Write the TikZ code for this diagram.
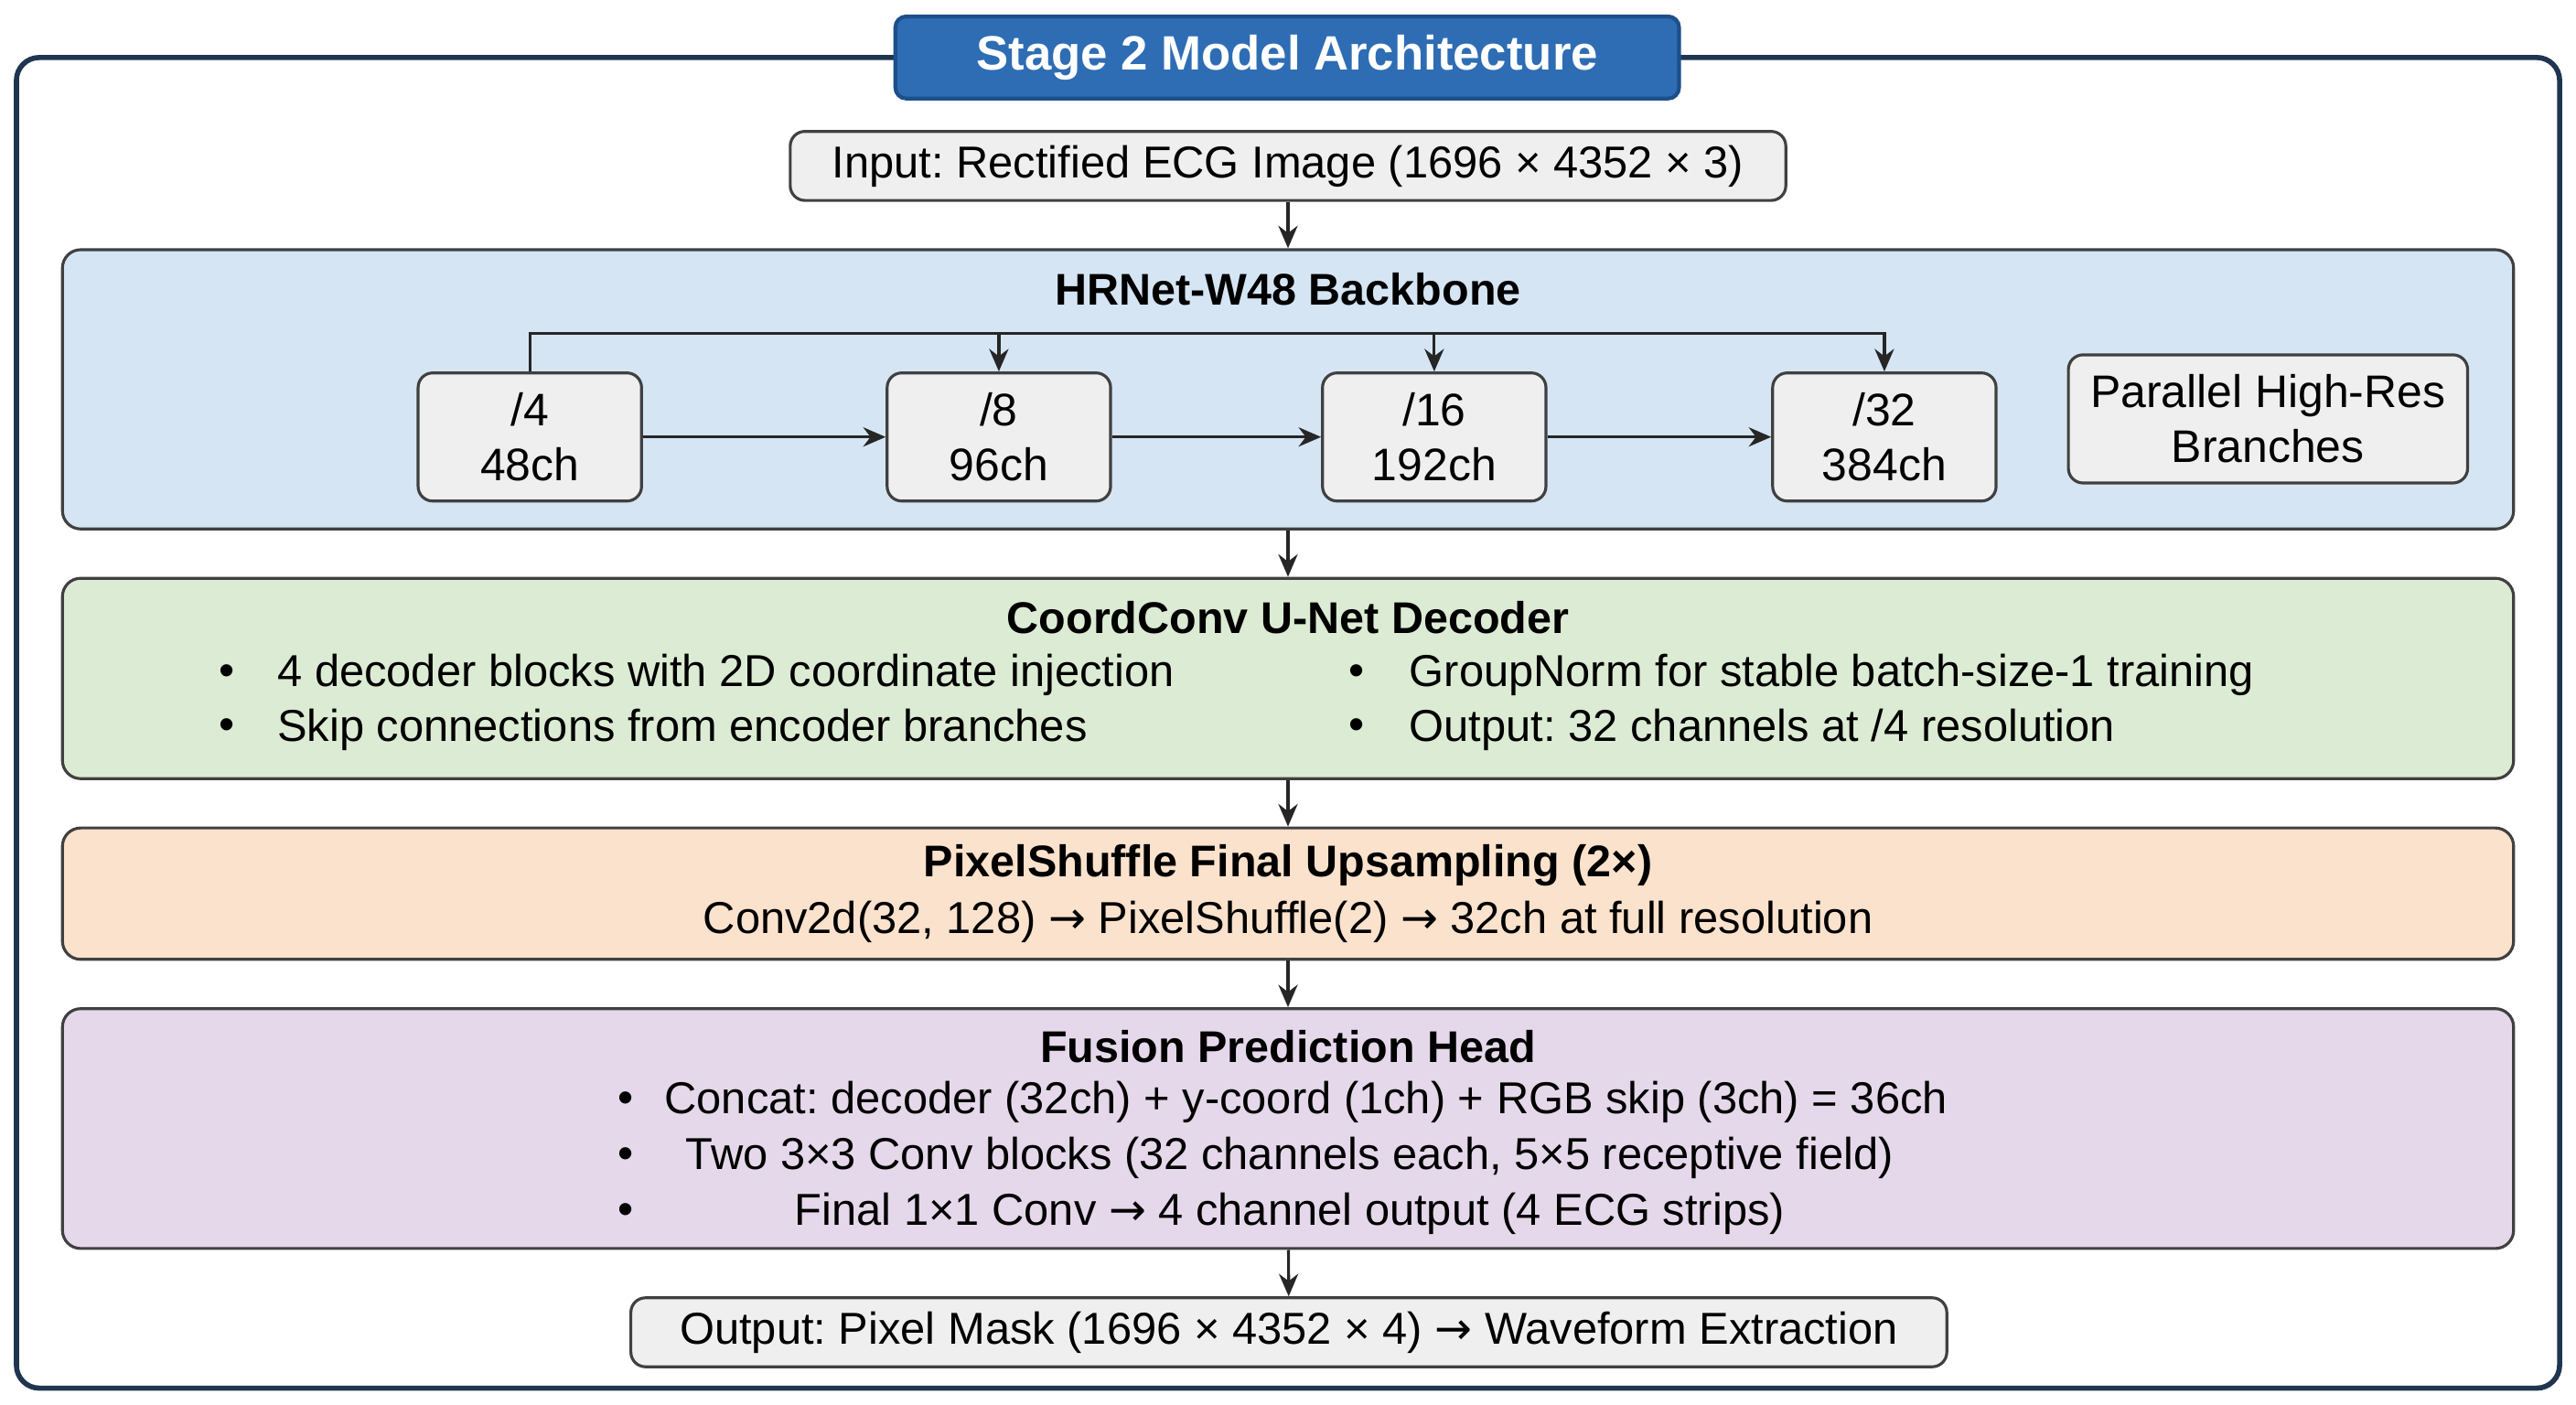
\documentclass[tikz,border=0pt]{standalone}
\usepackage{fontspec}
\setmainfont{Liberation Sans}
\newfontfamily\arrowfont{DejaVu Sans}
\newcommand{\ra}{{\arrowfont\symbol{"2192}}}
\usetikzlibrary{arrows.meta, positioning, calc}
\definecolor{frameblue}{HTML}{1F3550}
\definecolor{titleblue}{HTML}{2E6DB4}
\definecolor{titleedge}{HTML}{1D4F8A}
\definecolor{greybox}{HTML}{EFEFEF}
\definecolor{backbonefill}{HTML}{D5E5F3}
\definecolor{decoderfill}{HTML}{DCEBD3}
\definecolor{shufflefill}{HTML}{FBE2CC}
\definecolor{fusionfill}{HTML}{E5D8EA}
\def\u{0.01796cm}
\frenchspacing

\begin{document}
\begin{tikzpicture}[x=0.01796cm, y=-0.01796cm, font=\fontsize{13.9}{16}\selectfont]
            % Block styles
            \tikzstyle{panel} = [rectangle, draw=black!75, line width=0.9pt, rounded corners=0.2cm, minimum width=1492*\u]
            \tikzstyle{block} = [rectangle, draw=black!75, fill=greybox, line width=0.9pt, rounded corners=0.16cm, align=center]
            \tikzstyle{stage} = [block, minimum width=136*\u, minimum height=78*\u, font=\fontsize{14.2}{17}\selectfont]
            \tikzstyle{head} = [font=\fontsize{13.8}{16}\selectfont\bfseries]
            \tikzstyle{arrow} = [-{Stealth[length=7pt,width=6pt]}, line width=0.9pt, black!85]
            \useasboundingbox (0,0) rectangle (1568,855);
            % Frame and title
            \draw[frameblue, line width=1.6pt, rounded corners=0.25cm] (10,35) rectangle (1558,845);
            \node[rectangle, fill=titleblue, draw=titleedge, line width=1.2pt, rounded corners=0.12cm, minimum width=477*\u, minimum height=50*\u, text=white, font=\fontsize{15}{18}\selectfont\bfseries] (title) at (783.5,35) {Stage 2 Model Architecture};
            % Input and output
            \node[block, minimum width=606*\u, minimum height=42*\u] (input) at (784,101) {Input: Rectified ECG Image (1696 × 4352 × 3)};
            \node[block, minimum width=801*\u, minimum height=42*\u] (output) at (784.5,811) {Output: Pixel Mask (1696 × 4352 × 4) \ra{} Waveform Extraction};
            % Panels
            \node[panel, fill=backbonefill, minimum height=170*\u] (backbone) at (784,237) {};
            \node[panel, fill=decoderfill, minimum height=122*\u] (decoder) at (784,413) {};
            \node[panel, fill=shufflefill, minimum height=80*\u] (shuffle) at (784,544) {};
            \node[panel, fill=fusionfill, minimum height=146*\u] (fusion) at (784,687) {};
            % Backbone
            \node[head] (backbone_title) at (784,176) {HRNet-W48 Backbone};
            \node[stage] (b4) at (322.5,266) {/4\\48ch};
            \node[stage] (b8) at (608,266) {/8\\96ch};
            \node[stage] (b16) at (873,266) {/16\\192ch};
            \node[stage] (b32) at (1147,266) {/32\\384ch};
            \node[block, minimum width=243*\u, minimum height=78*\u, font=\fontsize{14.2}{17}\selectfont] (parallel) at (1380.5,255) {Parallel High-Res\\Branches};
            \coordinate (bus) at (322.5,203);
            \draw[arrow] (b4.north) -- (bus) -| (b32.north);
            \draw[arrow] (b8.north |- bus) -- (b8.north);
            \draw[arrow] (b16.north |- bus) -- (b16.north);
            \draw[arrow] (b4) -- (b8);
            \draw[arrow] (b8) -- (b16);
            \draw[arrow] (b16) -- (b32);
            % Decoder
            \node[head] (decoder_title) at (784,376) {CoordConv U-Net Decoder};
            \node (dl1_dot) at (138,411) {•};
            \node[anchor=west] (dl1) at (162,411) {4 decoder blocks with 2D coordinate injection};
            \node (dl2_dot) at (138,444) {•};
            \node[anchor=west] (dl2) at (162,444) {Skip connections from encoder branches};
            \node (dr1_dot) at (826,411) {•};
            \node[anchor=west] (dr1) at (851,411) {GroupNorm for stable batch-size-1 training};
            \node (dr2_dot) at (826,444) {•};
            \node[anchor=west] (dr2) at (851,444) {Output: 32 channels at /4 resolution};
            % PixelShuffle
            \node[head] (shuffle_title) at (784,527) {PixelShuffle Final Upsampling (2×)};
            \node (shuffle_text) at (784,561) {Conv2d(32, 128) \ra{} PixelShuffle(2) \ra{} 32ch at full resolution};
            % Fusion head
            \node[head] (fusion_title) at (784,637) {Fusion Prediction Head};
            \node (f1_dot) at (381,671) {•};
            \node (f1) at (795,671) {Concat: decoder (32ch) + y-coord (1ch) + RGB skip (3ch) = 36ch};
            \node (f2_dot) at (381,705) {•};
            \node (f2) at (785,705) {Two 3×3 Conv blocks (32 channels each, 5×5 receptive field)};
            \node (f3_dot) at (381,739) {•};
            \node (f3) at (785,739) {Final 1×1 Conv \ra{} 4 channel output (4 ECG strips)};
            % Connections
            \draw[arrow] (input) -- (backbone);
            \draw[arrow] (backbone) -- (decoder);
            \draw[arrow] (decoder) -- (shuffle);
            \draw[arrow] (shuffle) -- (fusion);
            \draw[arrow] (fusion) -- (output);
        \end{tikzpicture}
\end{document}
